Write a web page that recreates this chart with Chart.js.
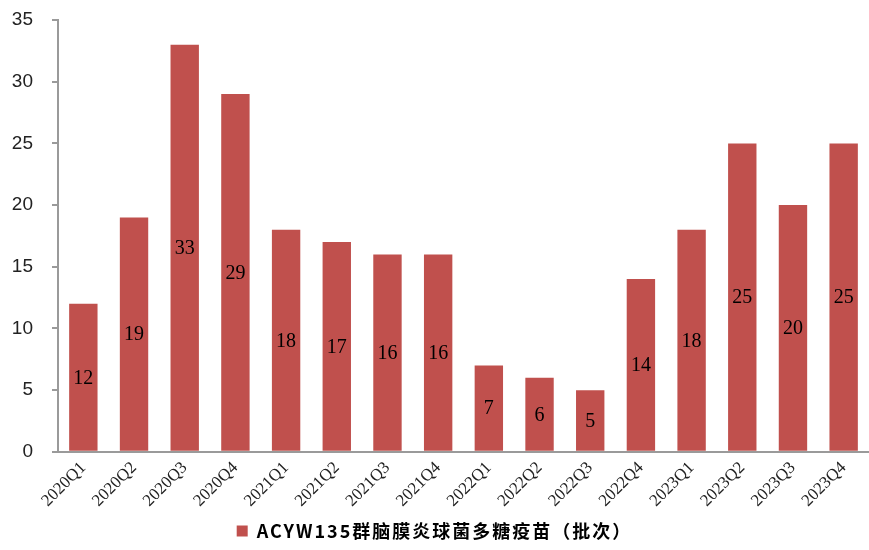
<!DOCTYPE html>
<html><head><meta charset="utf-8">
<script src="https://cdn.jsdelivr.net/npm/chart.js@4/dist/chart.umd.min.js"></script>
<style>html,body{margin:0;padding:0;background:#fff}#wrap{width:869px;height:550px}</style>
</head><body><div id="wrap"><canvas id="c" width="869" height="550"></canvas></div>
<script>
const categories = ['2020Q1','2020Q2','2020Q3','2020Q4','2021Q1','2021Q2','2021Q3','2021Q4','2022Q1','2022Q2','2022Q3','2022Q4','2023Q1','2023Q2','2023Q3','2023Q4'];
const batches = [12,19,33,29,18,17,16,16,7,6,5,14,18,25,20,25];
const yTicks = [0,5,10,15,20,25,30,35];
const seriesName = 'ACYW135群脑膜炎球菌多糖疫苗（批次）';

const labelPlugin = {
  id:'barLabels',
  beforeLayout(chart){
    const lg = chart.legend;
    if (lg && !lg._spaced){
      lg._spaced = true;
      const f = lg.fit.bind(lg), d = lg.draw.bind(lg);
      lg.fit = function(){ const c=chart.ctx; const o=c.letterSpacing; c.letterSpacing='2px'; f(); c.letterSpacing=o||'0px'; };
      lg.draw = function(){ const c=chart.ctx; const o=c.letterSpacing; c.letterSpacing='2px'; d(); c.letterSpacing=o||'0px'; };
    }
  },
  afterDatasetsDraw(chart){
    const ctx = chart.ctx;
    const meta = chart.getDatasetMeta(0);
    ctx.save();
    ctx.font = '20px "Liberation Serif", serif';
    ctx.fillStyle = '#000';
    ctx.textAlign = 'center';
    ctx.textBaseline = 'middle';
    meta.data.forEach((bar,i)=>{
      const y = (bar.y + bar.base)/2;
      ctx.fillText(String(batches[i]), bar.x, y+1);
    });
    ctx.restore();
  }
};

new Chart(document.getElementById('c'),{
  type:'bar',
  data:{labels:categories,datasets:[{label:seriesName,data:batches,backgroundColor:'#C0504D',categoryPercentage:1,barPercentage:0.56}]},
  options:{
    responsive:false,animation:false,
    layout:{padding:{left:0,right:0,top:20,bottom:0}},
    plugins:{
      legend:{position:'bottom',labels:{boxWidth:11,boxHeight:11,color:'#000',font:{family:'"Noto Sans CJK SC"',size:18,weight:'bold'},padding:5}},
      tooltip:{enabled:false}
    },
    scales:{
      x:{
        afterFit(s){s.paddingLeft=0;s.paddingRight=0;},
        grid:{display:false,drawTicks:false},
        border:{color:'#9a9a9a',width:2},
        ticks:{maxRotation:45,minRotation:45,color:'#222',padding:6,font:{family:'"Liberation Serif", serif',size:17}}
      },
      y:{
        min:0,max:35,
        afterFit(s){s.paddingTop=0;s.paddingBottom=0;s.width=58;},
        afterBuildTicks(s){s.ticks=yTicks.map(v=>({value:v}));},
        grid:{drawOnChartArea:false,drawTicks:true,tickLength:6,color:'#9a9a9a',lineWidth:2},
        border:{color:'#9a9a9a',width:2},
        ticks:{color:'#222',padding:19,font:{family:'"Liberation Sans", sans-serif',size:19}}
      }
    }
  },
  plugins:[labelPlugin]
});
</script></body></html>
